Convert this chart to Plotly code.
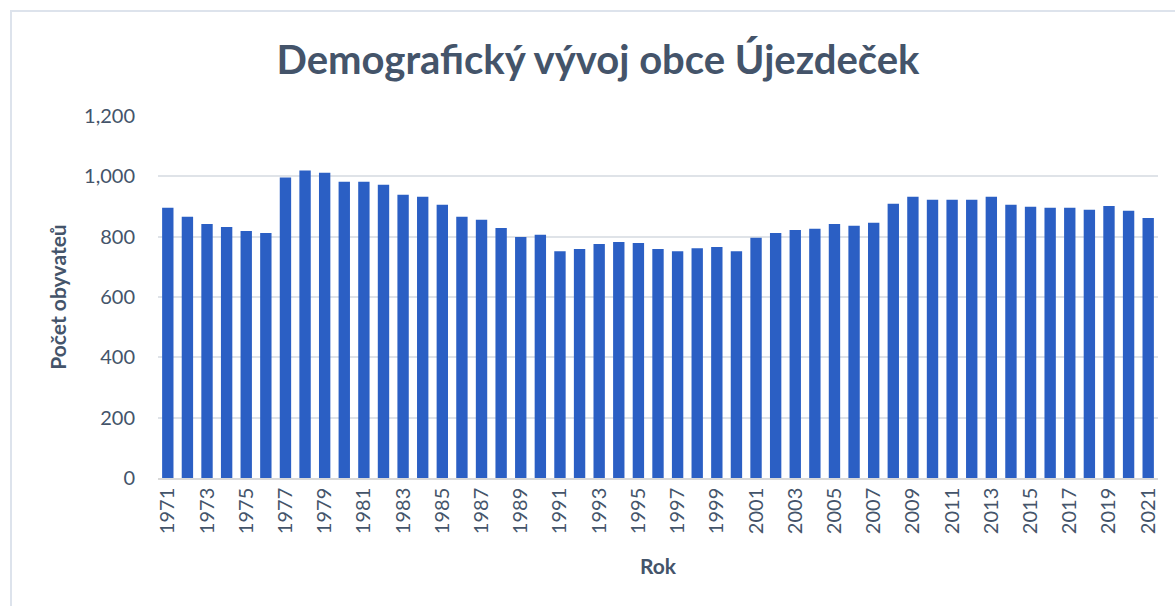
import plotly.graph_objects as go

years = list(range(1971, 2022))
population = [896, 866, 842, 832, 819, 812, 996, 1019, 1012, 982,
              982, 972, 939, 932, 906, 866, 856, 829, 799, 806,
              752, 759, 776, 782, 779, 759, 752, 762, 766, 752,
              796, 812, 822, 826, 842, 836, 846, 909, 932, 922,
              922, 922, 932, 906, 899, 896, 896, 889, 902, 886,
              862]
tick_years = [y for y in years if y % 2 == 1]
y_ticks = [0, 200, 400, 600, 800, 1000, 1200]

TXT = "#44546a"
FONT = "Lato"

fig = go.Figure(go.Bar(
    x=years, y=population,
    marker=dict(color="#2b5fc4", line=dict(width=0)),
))

W, H = 1175, 606
L, R, T, B = 158, 17, 116, 128
ph = H - T - B
pw = W - L - R

fig.update_layout(
    width=W, height=H,
    margin=dict(l=L, r=R, t=T, b=B),
    paper_bgcolor="white", plot_bgcolor="white",
    bargap=0.42,
    showlegend=False,
    font=dict(family=FONT, color=TXT),
    title=dict(text="<b>Demografický vývoj obce Újezdeček</b>",
               x=598 / W, xanchor="center", xref="container",
               y=1 - 60 / H, yanchor="middle", yref="container",
               font=dict(size=40, color=TXT, family=FONT)),
    xaxis=dict(
        tickmode="array", tickvals=tick_years,
        ticktext=[str(y) for y in tick_years],
        tickangle=-90, tickfont=dict(size=20, color=TXT),
        range=[1970.5, 2021.5],
        showgrid=False, showline=True, linecolor="#d9d9d9", linewidth=1.5,
        ticks="", title=dict(text="<b>Rok</b>", font=dict(size=21, color=TXT), standoff=26),
    ),
    yaxis=dict(
        range=[0, 1200], tickvals=y_ticks,
        ticktext=[f"{v:,}" for v in y_ticks],
        tickfont=dict(size=20, color=TXT),
        showgrid=True, gridcolor="#dfe3e8", gridwidth=1.5,
        zeroline=False, showline=False, ticks="",
        ticklabelstandoff=22,
        title=dict(text="<b>Počet obyvateů</b>", font=dict(size=21, color=TXT), standoff=11),
    ),
    shapes=[dict(type="rect", xref="paper", yref="paper",
                 x0=(11 - L) / pw, x1=1.2,
                 y0=-1.0, y1=(H - B - 11) / ph,
                 line=dict(color="#dde3ec", width=2), fillcolor="rgba(0,0,0,0)",
                 layer="below")],
)

fig.write_html("out.html", config={"displayModeBar": False},
               post_script="document.body.style.margin='0px';")
